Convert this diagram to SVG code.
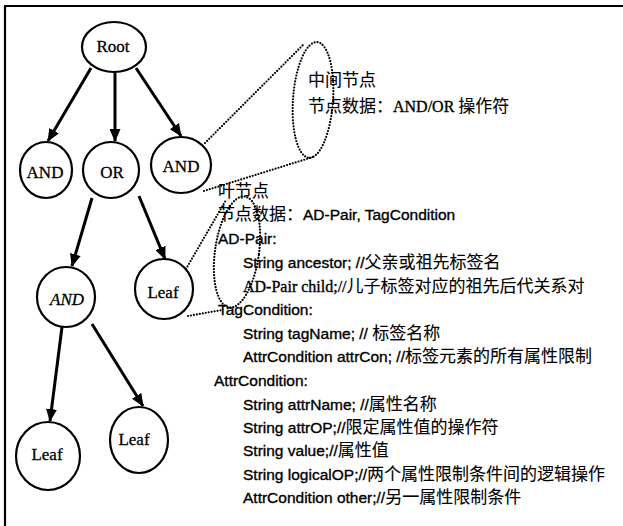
<svg xmlns="http://www.w3.org/2000/svg" width="623" height="526" viewBox="0 0 623 526">
<defs>
<marker id="ah" markerWidth="13" markerHeight="11" refX="12" refY="5.5" orient="auto" markerUnits="userSpaceOnUse">
<path d="M0,0 L13,5.5 L0,11 Z" fill="#000"/>
</marker>
<style>
.node ellipse{fill:#fff;stroke:#000;stroke-width:2.2}
.lbl{font-family:"Liberation Serif",serif;font-size:17px;text-anchor:middle;fill:#000;stroke:#000;stroke-width:0.3}
.edge{stroke:#000;stroke-width:3;fill:none;marker-end:url(#ah)}
.dot{stroke:#000;stroke-width:2.2;fill:none;stroke-dasharray:0 3;stroke-linecap:round}
.t{font-family:"Liberation Sans","Noto Sans CJK SC",sans-serif;font-size:15.5px;fill:#000;stroke:#000;stroke-width:0.35}
.c{font-family:"Noto Sans CJK SC",sans-serif;font-size:17px;stroke-width:0.1}
.s{font-family:"Liberation Serif","Noto Sans CJK SC",serif;font-size:16px}
</style>
</defs>
<rect width="623" height="526" fill="#fff"/>
<g id="frame" stroke="#000" stroke-width="2.2" fill="none">
<line x1="4" y1="6" x2="623" y2="6"/>
<line x1="5" y1="6" x2="5" y2="526"/>
</g>
<g id="connectors">
<line class="edge" x1="91" y1="68" x2="48" y2="141"/>
<line class="edge" x1="115" y1="73" x2="115" y2="141"/>
<line class="edge" x1="136" y1="68" x2="181" y2="136"/>
<line class="edge" x1="92" y1="198" x2="72" y2="266"/>
<line class="edge" x1="139" y1="196" x2="165" y2="259"/>
<line class="edge" x1="62" y1="327" x2="50" y2="421"/>
<line class="edge" x1="92" y1="324" x2="143" y2="406"/>
</g>
<g id="root" class="node"><ellipse cx="114" cy="47" rx="32" ry="25"/><text class="lbl" x="113" y="52">Root</text></g>
<g id="and1" class="node"><ellipse cx="46" cy="170" rx="26" ry="28"/><text class="lbl" x="45" y="178">AND</text></g>
<g id="or" class="node"><ellipse cx="111" cy="170" rx="28" ry="28"/><text class="lbl" x="112" y="178">OR</text></g>
<g id="and2" class="node"><ellipse cx="181" cy="165" rx="30" ry="28"/><text class="lbl" x="181" y="172">AND</text></g>
<g id="and3" class="node"><ellipse cx="66" cy="297" rx="29" ry="30"/><text class="lbl" x="67" y="305" font-style="italic">AND</text></g>
<g id="leaf1" class="node"><ellipse cx="164" cy="289" rx="29" ry="30"/><text class="lbl" x="163" y="298">Leaf</text></g>
<g id="leaf2" class="node"><ellipse cx="48" cy="456" rx="32" ry="34"/><text class="lbl" x="47" y="460">Leaf</text></g>
<g id="leaf3" class="node"><ellipse cx="139" cy="440" rx="29" ry="33"/><text class="lbl" x="134" y="445">Leaf</text></g>
<g id="callout-inner">
<ellipse class="dot" cx="313" cy="100" rx="20" ry="58" transform="rotate(4 313 100)"/>
<line class="dot" x1="205" y1="143" x2="304" y2="44"/>
<line class="dot" x1="204" y1="191" x2="313" y2="157"/>
<text class="t" x="308" y="86"><tspan class="c">中间节点</tspan></text>
<text class="t" x="308" y="112"><tspan class="c">节点数据：</tspan><tspan class="s" font-size="17px">AND/OR </tspan><tspan class="c">操作符</tspan></text>
</g>
<g id="callout-leaf">
<ellipse class="dot" cx="237" cy="252" rx="22" ry="56" transform="rotate(8 237 252)"/>
<line class="dot" x1="186" y1="269" x2="226" y2="200"/>
<line class="dot" x1="188" y1="316" x2="222" y2="310"/>
<text class="t" x="218" y="197"><tspan class="c">叶节点</tspan></text>
<text class="t" x="218" y="220"><tspan class="c">节点数据：</tspan>AD-Pair, TagCondition</text>
<text class="t" x="218" y="244">AD-Pair:</text>
<text class="t" x="243" y="268">String ancestor; //<tspan class="c">父亲或祖先标签名</tspan></text>
<text class="t" x="243" y="292"><tspan class="s">AD-Pair child;//</tspan><tspan class="c">儿子标签对应的祖先后代关系对</tspan></text>
<text class="t" x="218" y="315">TagCondition:</text>
<text class="t" x="243" y="339">String tagName; // <tspan class="c">标签名称</tspan></text>
<text class="t" x="243" y="362">AttrCondition attrCon; //<tspan class="c">标签元素的所有属性限制</tspan></text>
<text class="t" x="214" y="386">AttrCondition:</text>
<text class="t" x="243" y="410">String attrName; //<tspan class="c">属性名称</tspan></text>
<text class="t" x="243" y="433">String attrOP;//<tspan class="c">限定属性值的操作符</tspan></text>
<text class="t" x="243" y="456">String value;//<tspan class="c">属性值</tspan></text>
<text class="t" x="243" y="480">String logicalOP;//<tspan class="c">两个属性限制条件间的逻辑操作</tspan></text>
<text class="t" x="243" y="503">AttrCondition other;//<tspan class="c">另一属性限制条件</tspan></text>
</g>
</svg>
